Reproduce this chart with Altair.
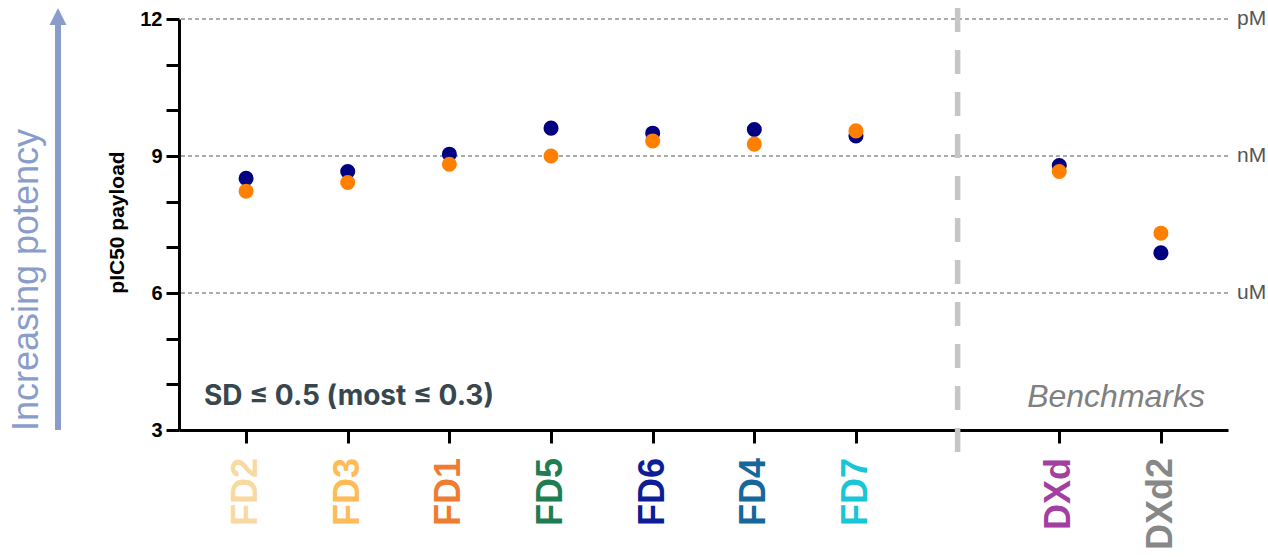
import altair as alt
import pandas as pd

# Compounds, their slot on the x axis (slot 8 is the gap before the benchmarks)
compounds = ["FD2", "FD3", "FD1", "FD5", "FD6", "FD4", "FD7", "DXd", "DXd2"]
slots = [1, 2, 3, 4, 5, 6, 7, 9, 10]
label_colors = ["#f9d9a2", "#ffbb55", "#ee7d32", "#1f7d52", "#0d1c97",
                "#16679b", "#18c6d5", "#a23fa1", "#878787"]

# pIC50 of the payload, two independent runs
run_a = [8.51, 8.66, 9.04, 9.61, 9.50, 9.58, 9.44, 8.79, 6.88]
run_b = [8.23, 8.42, 8.82, 9.00, 9.33, 9.26, 9.55, 8.66, 7.31]
run_names = ["Run A", "Run B"]
run_colors = ["#000080", "#ff8000"]

# Reference potency levels
level_values = [12, 9, 6]
level_names = ["pM", "nM", "uM"]

points = pd.DataFrame({
    "slot": slots * 2,
    "pic50": run_a + run_b,
    "run": [run_names[0]] * len(slots) + [run_names[1]] * len(slots),
})
labels = pd.DataFrame({"slot": slots, "compound": compounds})
levels = pd.DataFrame({"level": level_values, "name": level_names})
one = pd.DataFrame({"k": [0]})

FONT = "Liberation Sans"
ARROW = "#8a9dca"

x_scale = alt.Scale(domain=[0.34, 10.66], nice=False, zero=False)
y_scale = alt.Scale(domain=[3, 12], nice=False, zero=False)

x_axis = alt.Axis(values=[1, 2, 3, 4, 5, 6, 7, 9, 10], labels=False, title=None,
                  grid=False, tickSize=13, tickWidth=3, tickColor="black",
                  domainWidth=3, domainColor="black")
y_axis = alt.Axis(values=list(range(3, 13)),
                  labelExpr="datum.value % 3 == 0 ? datum.label : ''",
                  grid=False, tickSize=13, tickWidth=3, tickColor="black",
                  domainWidth=3, domainColor="black",
                  labelFont=FONT, labelFontWeight="bold", labelFontSize=20,
                  labelColor="black", labelPadding=4,
                  title="pIC50 payload", titleFont=FONT, titleFontWeight="bold",
                  titleFontSize=21, titleColor="black", titleAngle=270,
                  titleX=-62, titleY=203, titleAlign="center",
                  titleBaseline="middle")

grid = alt.Chart(levels).mark_rule(
    color="#8f8f8f", strokeWidth=1.7, strokeDash=[4, 3]
).encode(y=alt.Y("level:Q", scale=y_scale))

grid_text = alt.Chart(levels).mark_text(
    align="left", baseline="middle", font=FONT, fontSize=21, color="#555555"
).encode(x=alt.value(1058), y=alt.Y("level:Q", scale=y_scale), text="name:N")

separator = alt.Chart(one).mark_rule(
    color="#c6c6c6", strokeWidth=5.5, strokeDash=[24, 18]
).encode(x=alt.datum(8, type="quantitative"), y=alt.value(-11), y2=alt.value(433))

dots = alt.Chart(points).mark_circle(size=227, opacity=1).encode(
    x=alt.X("slot:Q", scale=x_scale, axis=x_axis),
    y=alt.Y("pic50:Q", scale=y_scale, axis=y_axis),
    color=alt.Color("run:N", scale=alt.Scale(domain=run_names, range=run_colors),
                    legend=None),
)

tick_text = alt.Chart(labels).mark_text(
    angle=270, align="right", baseline="middle", font=FONT, fontWeight="bold",
    fontSize=36
).encode(
    x=alt.X("slot:Q", scale=x_scale),
    y=alt.value(439),
    text="compound:N",
    color=alt.Color("compound:N",
                    scale=alt.Scale(domain=compounds, range=label_colors),
                    legend=None),
)

sd_note = alt.Chart(one).mark_text(
    align="left", baseline="middle", font="Inter", fontWeight="bold",
    fontSize=28, color="#37474f", text="SD ≤ 0.5 (most ≤ 0.3)"
).encode(x=alt.value(25), y=alt.value(378))

bench_note = alt.Chart(one).mark_text(
    align="right", baseline="middle", font=FONT, fontStyle="italic",
    fontSize=32, color="#808080", text="Benchmarks"
).encode(x=alt.value(1026), y=alt.value(378))

potency_text = alt.Chart(one).mark_text(
    angle=270, align="center", baseline="middle", font=FONT, fontSize=36,
    color=ARROW, text="Increasing potency"
).encode(x=alt.value(-152), y=alt.value(261))

arrow_shaft = alt.Chart(one).mark_rule(color=ARROW, strokeWidth=6).encode(
    x=alt.value(-121), y=alt.value(411), y2=alt.value(4)
)
arrow_head = alt.Chart(one).mark_point(
    shape="M0,-1L1,1L-1,1Z", size=289, filled=True, opacity=1, color=ARROW
).encode(x=alt.value(-121), y=alt.value(-2.5))

chart = alt.layer(
    grid, grid_text, separator, dots, tick_text, sd_note, bench_note,
    potency_text, arrow_shaft, arrow_head
).resolve_scale(color="independent").properties(
    width=1049, height=411,
    autosize=alt.AutoSizeParams(type="none"),
    padding={"left": 179, "top": 19, "right": 40, "bottom": 127},
    background="white",
).configure_view(stroke=None)

chart.save("out.html", embed_options={"renderer": "svg", "actions": False})
